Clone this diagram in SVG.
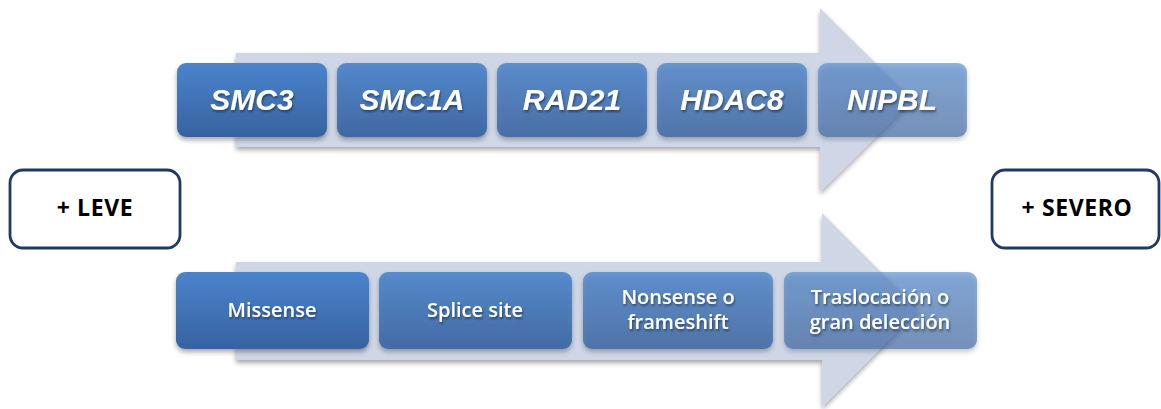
<svg xmlns="http://www.w3.org/2000/svg" width="1161" height="409" viewBox="0 0 1161 409">
<defs>
<linearGradient id="bg" x1="0" y1="0" x2="0" y2="1">
<stop offset="0" stop-color="#4a84cc"/>
<stop offset="1" stop-color="#3762a0"/>
</linearGradient>
<filter id="sh" x="-10%" y="-20%" width="120%" height="150%">
<feGaussianBlur in="SourceAlpha" stdDeviation="2.5"/>
<feOffset dy="3" result="b"/>
<feComponentTransfer><feFuncA type="linear" slope="0.35"/></feComponentTransfer>
<feMerge><feMergeNode/><feMergeNode in="SourceGraphic"/></feMerge>
</filter>
<filter id="tsh" x="-10%" y="-20%" width="120%" height="150%">
<feGaussianBlur in="SourceAlpha" stdDeviation="1"/>
<feOffset dx="1" dy="1.5" result="b"/>
<feComponentTransfer><feFuncA type="linear" slope="0.4"/></feComponentTransfer>
<feMerge><feMergeNode/><feMergeNode in="SourceGraphic"/></feMerge>
</filter>
</defs>
<style>
.arrow{fill:#cfd7e7}
.box{fill:url(#bg)}
.gene{font-family:"Liberation Sans",Arial,sans-serif;font-weight:bold;font-style:italic;font-size:30px;fill:#ffffff;text-anchor:middle}
.mut{font-family:"Open Sans","Liberation Sans",sans-serif;font-weight:600;font-size:20px;fill:#ffffff;text-anchor:middle}
.side{fill:#ffffff;stroke:#1f3a64;stroke-width:2.8}
.lbl{font-family:"Open Sans","Liberation Sans",sans-serif;font-weight:bold;font-size:23px;letter-spacing:0.6px;fill:#000000;text-anchor:middle}
</style>
<g id="connectors">
<path class="arrow" filter="url(#sh)" d="M236,53 H820 V8 L913,100 L820,192 V147 H236 Z"/>
<path class="arrow" filter="url(#sh)" d="M236,262 H822 V213 L919,310 L822,407 V360 H236 Z"/>
</g>
<g id="smc3" filter="url(#sh)"><rect class="box" x="177" y="63" width="150" height="74" rx="9"/><text class="gene" x="252" y="110" filter="url(#tsh)">SMC3</text></g>
<g id="smc1a" filter="url(#sh)"><rect class="box" x="337" y="63" width="150" height="74" rx="9" fill-opacity="0.9"/><text class="gene" x="412" y="110" filter="url(#tsh)">SMC1A</text></g>
<g id="rad21" filter="url(#sh)"><rect class="box" x="497" y="63" width="150" height="74" rx="9" fill-opacity="0.82"/><text class="gene" x="572" y="110" filter="url(#tsh)">RAD21</text></g>
<g id="hdac8" filter="url(#sh)"><rect class="box" x="657" y="63" width="150" height="74" rx="9" fill-opacity="0.75"/><text class="gene" x="732" y="110" filter="url(#tsh)">HDAC8</text></g>
<g id="nipbl" filter="url(#sh)"><rect class="box" x="818" y="63" width="149" height="74" rx="9" fill-opacity="0.6"/><text class="gene" x="892" y="110" filter="url(#tsh)">NIPBL</text></g>
<g id="missense" filter="url(#sh)"><rect class="box" x="176" y="272" width="193" height="77" rx="9"/><text class="mut" x="272" y="317" filter="url(#tsh)">Missense</text></g>
<g id="splice" filter="url(#sh)"><rect class="box" x="379" y="272" width="193" height="77" rx="9" fill-opacity="0.87"/><text class="mut" x="475" y="317" filter="url(#tsh)">Splice site</text></g>
<g id="nonsense" filter="url(#sh)"><rect class="box" x="583" y="272" width="190" height="77" rx="9" fill-opacity="0.77"/><text class="mut" x="678" y="304" filter="url(#tsh)">Nonsense o</text><text class="mut" x="678" y="329" filter="url(#tsh)">frameshift</text></g>
<g id="traslocacion" filter="url(#sh)"><rect class="box" x="784" y="272" width="193" height="77" rx="9" fill-opacity="0.6"/><text class="mut" x="880" y="304" filter="url(#tsh)">Traslocación o</text><text class="mut" x="880" y="329" filter="url(#tsh)">gran delección</text></g>
<g id="leve"><rect class="side" x="10" y="170" width="170" height="78" rx="13"/><text class="lbl" x="95" y="216">+ LEVE</text></g>
<g id="severo"><rect class="side" x="992" y="170" width="167" height="78" rx="13"/><text class="lbl" x="1077" y="216">+ SEVERO</text></g>
</svg>
